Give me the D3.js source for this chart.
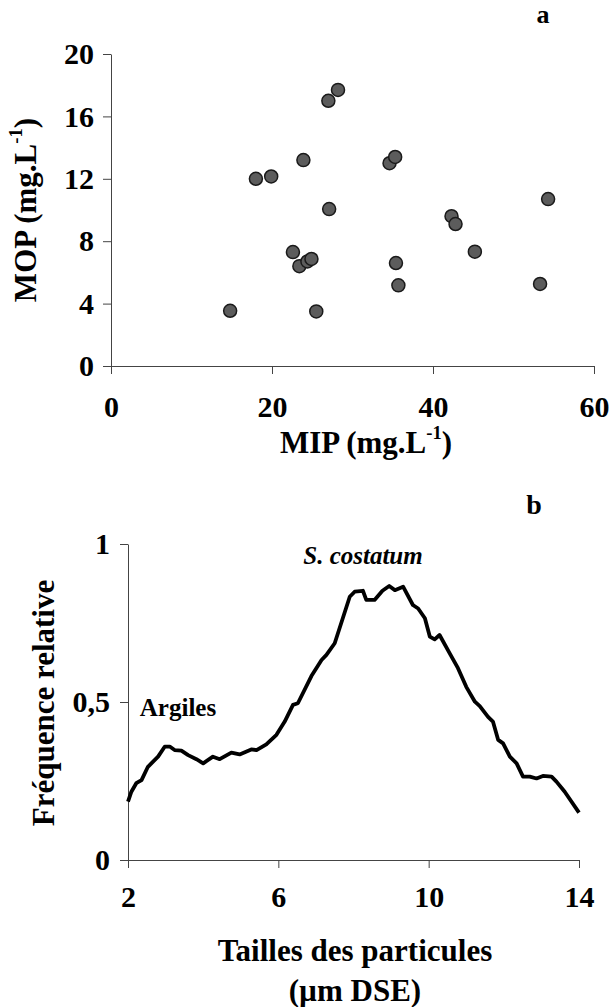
<!DOCTYPE html>
<html>
<head>
<meta charset="utf-8">
<script src="https://cdn.jsdelivr.net/npm/d3@7"></script>
<style>
  body { margin: 0; background: #fff; }
  text { font-family: "Liberation Serif", "Times New Roman", serif; font-weight: bold; fill: #000; }
</style>
</head>
<body>
<div id="fig"></div>
<script>
const width = 612;
const height = 1007;

// panel a : MOP vs MIP (mg.L-1)
const mip = [14.8, 18.0, 19.9, 23.9, 27.0, 28.2, 27.1, 22.6, 23.4, 24.4, 24.9, 25.5, 34.6, 35.3, 35.4, 35.7, 42.3, 42.8, 45.2, 54.3, 53.3];
const mop = [3.54, 12.0, 12.15, 13.2, 17.0, 17.7, 10.06, 7.3, 6.4, 6.7, 6.86, 3.5, 13.0, 13.4, 6.6, 5.17, 9.6, 9.1, 7.33, 10.7, 5.26];
const mipTicks = [0, 20, 40, 60];
const mopTicks = [0, 4, 8, 12, 16, 20];

// panel b : relative frequency vs particle size (um DSE)
const taille = [2.00, 2.09, 2.22, 2.36, 2.53, 2.80, 2.98, 3.11, 3.24, 3.42, 3.60, 3.82, 4.00, 4.26, 4.44, 4.75, 4.97, 5.28, 5.42, 5.68,
  5.95, 6.17, 6.39, 6.52, 6.88, 7.15, 7.28, 7.50, 7.90, 8.03, 8.25, 8.34, 8.56, 8.77, 8.95, 9.10, 9.32, 9.58, 9.72, 9.90,
  10.03, 10.16, 10.29, 10.56, 10.78, 11.00, 11.23, 11.36, 11.58, 11.71, 11.85, 11.98, 12.16, 12.34, 12.51, 12.69, 12.87, 13.04, 13.27, 13.40,
  13.62, 14.00];
const frequence = [0.185, 0.216, 0.243, 0.253, 0.295, 0.327, 0.359, 0.359, 0.348, 0.346, 0.332, 0.319, 0.306, 0.327, 0.319, 0.340, 0.334, 0.350, 0.348, 0.366,
  0.396, 0.438, 0.491, 0.496, 0.582, 0.633, 0.649, 0.686, 0.833, 0.849, 0.852, 0.823, 0.823, 0.852, 0.867, 0.854, 0.865, 0.807, 0.796, 0.765,
  0.707, 0.698, 0.712, 0.654, 0.607, 0.548, 0.501, 0.487, 0.453, 0.438, 0.380, 0.369, 0.327, 0.306, 0.264, 0.264, 0.258, 0.266, 0.264, 0.248,
  0.216, 0.150];
const tailleTicks = [2, 6, 10, 14];
const freqTicks = [0, 0.5, 1];

const svg = d3.select("#fig")
    .append("svg")
    .attr("width", width)
    .attr("height", height);

// axis titles with a "-1" exponent
const unitTitle = (g, main) => {
  g.append("tspan").text(main + " (mg.L");
  g.append("tspan").attr("font-size", "0.6em").attr("dy", "-0.75em").text("-1");
  g.append("tspan").attr("dy", "0.45em").text(")");
}

const styleAxis = (g) => {
  g.select(".domain").attr("stroke", "#444").attr("stroke-width", 1);
  g.selectAll(".tick line").attr("stroke", "#444").attr("stroke-width", 1);
  g.selectAll(".tick text").attr("font-size", 30).attr("font-family", "Liberation Serif").attr("font-weight", "bold");
}

// ---------- panel a ----------
let xA = d3.scaleLinear().domain([0, 60]).range([111, 594]);
let yA = d3.scaleLinear().domain([0, 20]).range([366, 54]);

svg.append("g")
    .attr("transform", "translate(0," + yA(0) + ")")
    .call(d3.axisBottom(xA).tickValues(mipTicks).tickSize(8).tickSizeOuter(0).tickPadding(22))
    .call(styleAxis);

svg.append("g")
    .attr("transform", "translate(" + xA(0) + ",0)")
    .call(d3.axisLeft(yA).tickValues(mopTicks).tickSize(8).tickSizeOuter(0).tickPadding(9))
    .call(styleAxis);

svg.append("g")
    .selectAll("circle")
    .data(mip.map((d, i) => ({x: d, y: mop[i]})))
    .join("circle")
    .attr("cx", d => xA(d.x))
    .attr("cy", d => yA(d.y))
    .attr("r", 6.5)
    .attr("fill", "#5c5c5c")
    .attr("stroke", "#1a1a1a")
    .attr("stroke-width", 1.5);

svg.append("text")
    .attr("x", 366).attr("y", 453)
    .attr("text-anchor", "middle")
    .attr("font-size", 31)
    .call(t => unitTitle(t, "MIP"));

svg.append("text")
    .attr("transform", "translate(36,210) rotate(-90)")
    .attr("text-anchor", "middle")
    .attr("font-size", 31)
    .call(t => unitTitle(t, "MOP"));

svg.append("text")
    .attr("x", 543).attr("y", 23)
    .attr("text-anchor", "middle")
    .attr("font-size", 26)
    .text("a");

// ---------- panel b ----------
let xB = d3.scaleLinear().domain([2, 14]).range([128, 579]);
let yB = d3.scaleLinear().domain([0, 1]).range([860, 544]);

svg.append("g")
    .attr("transform", "translate(0," + yB(0) + ")")
    .call(d3.axisBottom(xB).tickValues(tailleTicks).tickSize(8).tickSizeOuter(0).tickPadding(18))
    .call(styleAxis);

svg.append("g")
    .attr("transform", "translate(" + xB(2) + ",0)")
    .call(d3.axisLeft(yB).tickValues(freqTicks).tickSize(8).tickSizeOuter(0).tickPadding(10)
      .tickFormat(d => d3.format("")(d).replace(".", ",")))
    .call(styleAxis);

let line = d3.line()
    .x((d, i) => xB(taille[i]))
    .y(d => yB(d));

svg.append("path")
    .datum(frequence)
    .attr("d", line)
    .attr("fill", "none")
    .attr("stroke", "#000")
    .attr("stroke-width", 3.8)
    .attr("stroke-linejoin", "round");

svg.append("text")
    .attr("x", 178).attr("y", 716)
    .attr("text-anchor", "middle")
    .attr("font-size", 25)
    .text("Argiles");

svg.append("text")
    .attr("x", 363).attr("y", 564)
    .attr("text-anchor", "middle")
    .attr("font-size", 25)
    .attr("font-style", "italic")
    .text("S. costatum");

svg.append("text")
    .attr("transform", "translate(54,703) rotate(-90)")
    .attr("text-anchor", "middle")
    .attr("font-size", 31)
    .text("Fréquence relative");

svg.append("text")
    .attr("x", 355).attr("y", 961)
    .attr("text-anchor", "middle")
    .attr("font-size", 31)
    .text("Tailles des particules");

svg.append("text")
    .attr("x", 355).attr("y", 1001)
    .attr("text-anchor", "middle")
    .attr("font-size", 31)
    .text("(µm DSE)");

svg.append("text")
    .attr("x", 534).attr("y", 514)
    .attr("text-anchor", "middle")
    .attr("font-size", 28)
    .text("b");
</script>
</body>
</html>
